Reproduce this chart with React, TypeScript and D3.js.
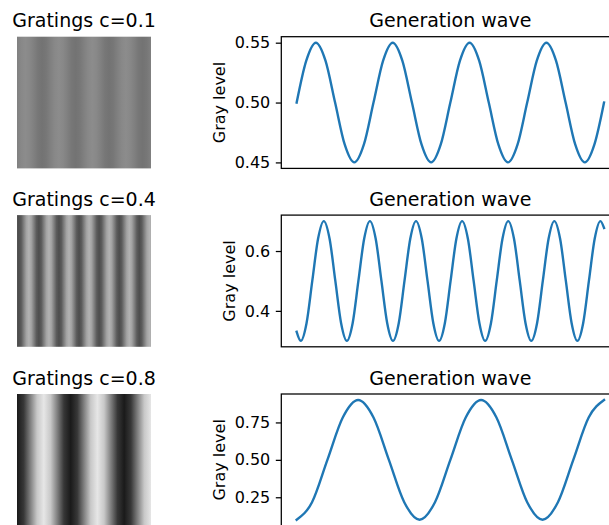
import React, { useEffect, useRef } from "react";
import * as d3 from "d3";

// ---------- data ----------
const rowTitles = ["Gratings c=0.1", "Gratings c=0.4", "Gratings c=0.8"];
const waveTitle = "Generation wave";
const yLabel = "Gray level";

const wave1X = [0, 3.125, 6.25, 9.375, 12.5, 15.625, 18.75, 21.875, 25, 28.125, 31.25, 34.375, 37.5, 40.625, 43.75, 46.875, 50, 53.125, 56.25, 59.375, 62.5, 65.625, 68.75, 71.875, 75, 78.125, 81.25, 84.375, 87.5, 90.625, 93.75, 96.875, 100];
const wave1Y = [
  0.5, 0.535, 0.55, 0.535, 0.5, 0.465, 0.45, 0.465,
  0.5, 0.535, 0.55, 0.535, 0.5, 0.465, 0.45, 0.465,
  0.5, 0.535, 0.55, 0.535, 0.5, 0.465, 0.45, 0.465,
  0.5, 0.535, 0.55, 0.535, 0.5, 0.465, 0.45, 0.465,
  0.5,
];

const wave2X = [
  0,
  1.33, 3.21, 5.08, 6.96, 8.83, 10.71, 12.58, 14.46,
  16.33, 18.21, 20.08, 21.96, 23.83, 25.71, 27.58, 29.46,
  31.33, 33.21, 35.08, 36.96, 38.83, 40.71, 42.58, 44.46,
  46.33, 48.21, 50.08, 51.96, 53.83, 55.71, 57.58, 59.46,
  61.33, 63.21, 65.08, 66.96, 68.83, 70.71, 72.58, 74.46,
  76.33, 78.21, 80.08, 81.96, 83.83, 85.71, 87.58, 89.46,
  91.33, 93.21, 95.08, 96.96, 98.83,
  100,
];
const wave2Y = [
  0.33,
  0.3, 0.359, 0.5, 0.641, 0.7, 0.641, 0.5, 0.359,
  0.3, 0.359, 0.5, 0.641, 0.7, 0.641, 0.5, 0.359,
  0.3, 0.359, 0.5, 0.641, 0.7, 0.641, 0.5, 0.359,
  0.3, 0.359, 0.5, 0.641, 0.7, 0.641, 0.5, 0.359,
  0.3, 0.359, 0.5, 0.641, 0.7, 0.641, 0.5, 0.359,
  0.3, 0.359, 0.5, 0.641, 0.7, 0.641, 0.5, 0.359,
  0.3, 0.359, 0.5, 0.641, 0.7,
  0.677,
];

const wave3X = [0, 5, 10, 15, 20, 25, 30, 35, 40, 45, 50, 55, 60, 65, 70, 75, 80, 85, 90, 95, 100];
const wave3Y = [
  0.1, 0.217, 0.5, 0.783, 0.9, 0.783, 0.5, 0.217,
  0.1, 0.217, 0.5, 0.783, 0.9, 0.783, 0.5, 0.217,
  0.1, 0.217, 0.5, 0.783, 0.9,
];

const tick1 = [0.45, 0.5, 0.55];
const tick1Labels = ["0.45", "0.50", "0.55"];
const tick2 = [0.4, 0.6];
const tick2Labels = ["0.4", "0.6"];
const tick3 = [0.25, 0.5, 0.75];
const tick3Labels = ["0.25", "0.50", "0.75"];

// ---------- layout ----------
const W = 609;
const H = 525;
const FONT = "DejaVu Sans";
const axLeft = 281.3;
const axRight = 619.4;
const axH = 131.7;
const rowTops = [36.7, 215.1, 394.0];
const imgLeft = 17;
const imgW = 134;
const BLUE = "#1f77b4";

const rows = [
  { title: rowTitles[0], xs: wave1X, ys: wave1Y, ticks: tick1, labels: tick1Labels },
  { title: rowTitles[1], xs: wave2X, ys: wave2Y, ticks: tick2, labels: tick2Labels },
  { title: rowTitles[2], xs: wave3X, ys: wave3Y, ticks: tick3, labels: tick3Labels },
];

// DejaVu Sans advance widths (em) for tick label characters
const charW: Record<string, number> = { ".": 0.318, "-": 0.361 };
const textWidth = (s: string, size: number) =>
  s.split("").reduce((a, c) => a + (charW[c] ?? 0.636), 0) * size;

export default function App() {
  const ref = useRef<SVGSVGElement>(null);

  useEffect(() => {
    document.body.style.margin = "0";
    const svg = d3.select(ref.current);
    svg.selectAll("*").remove();
    const defs = svg.append("defs");
    const gray = d3.scaleLinear<string>().domain([0, 1]).range(["#000000", "#ffffff"]);

    rows.forEach((r, i) => {
      const top = rowTops[i];
      const bottom = top + axH;
      const pts = r.xs.map((x, k) => ({ x, y: r.ys[k] }));
      const xMin = d3.min(r.xs)!;
      const xMax = d3.max(r.xs)!;
      const yMin = d3.min(r.ys)!;
      const yMax = d3.max(r.ys)!;
      const xPad = (xMax - xMin) * 0.05;
      const yPad = (yMax - yMin) * 0.05;
      const x = d3.scaleLinear().domain([xMin - xPad, xMax + xPad]).range([axLeft, axRight]);
      const y = d3.scaleLinear().domain([yMin - yPad, yMax + yPad]).range([bottom, top]);

      // ---- grating image ----
      const gid = `grat${i}`;
      const grad = defs.append("linearGradient").attr("id", gid).attr("x1", 0).attr("x2", 1).attr("y1", 0).attr("y2", 0);
      const gx = d3.scaleLinear().domain([xMin, xMax]).range([0, 1]);
      pts.forEach((p) => {
        grad.append("stop").attr("offset", gx(p.x)).attr("stop-color", gray(p.y));
      });
      svg.append("rect")
        .attr("x", imgLeft).attr("y", top).attr("width", imgW).attr("height", axH)
        .attr("fill", `url(#${gid})`);
      svg.append("text")
        .attr("x", imgLeft + imgW / 2).attr("y", top - 9.5)
        .attr("text-anchor", "middle").attr("font-family", FONT).attr("font-size", 19)
        .attr("fill", "#000").text(r.title);

      // ---- wave plot ----
      const line = d3.line<{ x: number; y: number }>().x((d) => x(d.x)).y((d) => y(d.y)).curve(d3.curveMonotoneX);
      svg.append("path").attr("d", line(pts)!).attr("fill", "none").attr("stroke", BLUE)
        .attr("stroke-width", 2.4).attr("stroke-linejoin", "round").attr("stroke-linecap", "square");

      const ax = svg.append("g").attr("transform", `translate(${axLeft},0)`)
        .call(
          d3.axisLeft(y).tickValues(r.ticks).tickFormat((_d, k) => r.labels[k])
            .tickSize(5.5).tickPadding(5.5) as any
        );
      ax.select(".domain").remove();
      ax.selectAll("line").attr("stroke", "#000").attr("stroke-width", 1.26);
      ax.selectAll("text").attr("font-family", FONT).attr("font-size", 16).attr("fill", "#000");

      // spines
      const sp = svg.append("g").attr("stroke", "#000").attr("stroke-width", 1.26).attr("fill", "none");
      sp.append("rect").attr("x", axLeft).attr("y", top).attr("width", axRight - axLeft).attr("height", axH);

      svg.append("text")
        .attr("x", (axLeft + axRight) / 2).attr("y", top - 9.5)
        .attr("text-anchor", "middle").attr("font-family", FONT).attr("font-size", 19)
        .attr("fill", "#000").text(waveTitle);

      const maxTick = d3.max(r.labels, (s) => textWidth(s, 16))!;
      const labelRight = axLeft - 5.5 - 5.5 - maxTick - 6.3;
      const lx = labelRight - 9.3;
      const ly = (top + bottom) / 2;
      svg.append("text")
        .attr("transform", `translate(${lx},${ly}) rotate(-90)`)
        .attr("text-anchor", "middle").attr("dominant-baseline", "central")
        .attr("font-family", FONT).attr("font-size", 16).attr("fill", "#000").text(yLabel);
    });
  }, []);

  return (
    <svg
      ref={ref}
      width={W}
      height={H}
      style={{ position: "absolute", left: 0, top: 0, background: "#fff" }}
    />
  );
}
